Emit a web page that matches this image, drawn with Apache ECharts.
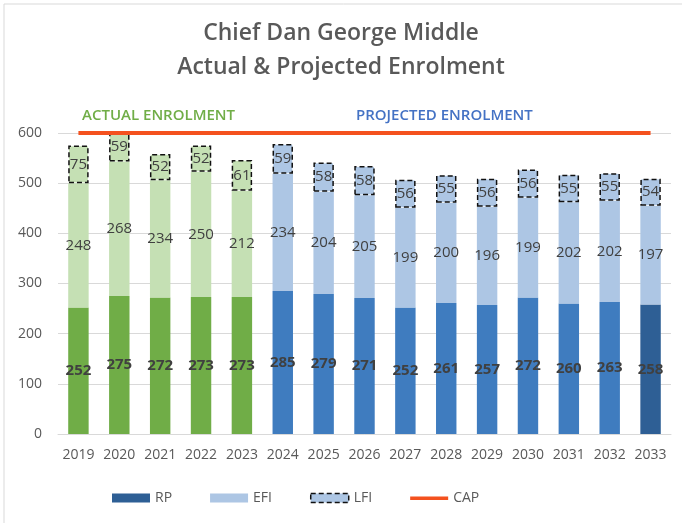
<!DOCTYPE html>
<html>
<head>
<meta charset="utf-8">
<script src="https://cdn.jsdelivr.net/npm/echarts@6/dist/echarts.min.js"></script>
<style>
  html, body { margin: 0; padding: 0; background: #fff; }
  #chart { width: 682px; height: 523px; }
</style>
</head>
<body>
<div id="chart"></div>
<script>
// data
var years = ["2019", "2020", "2021", "2022", "2023", "2024", "2025", "2026", "2027", "2028", "2029", "2030", "2031", "2032", "2033"];
var rp = [252, 275, 272, 273, 273, 285, 279, 271, 252, 261, 257, 272, 260, 263, 258];
var efi = [248, 268, 234, 250, 212, 234, 204, 205, 199, 200, 196, 199, 202, 202, 197];
var lfi = [75, 59, 52, 52, 61, 59, 58, 58, 56, 55, 56, 56, 55, 55, 54];
var cap = [600, 600, 600, 600, 600, 600, 600, 600, 600, 600, 600, 600, 600, 600, 600];
var actualCount = 5; // first 5 years are actual

var chart = echarts.init(document.getElementById("chart"));

function rpColor(i) {
  if (i < actualCount) return "#70ad47";
  if (i === years.length - 1) return "#2e5f95";
  return "#3f7cbf";
}
function lightColor(i) {
  return i < actualCount ? "#c5e0b4" : "#adc6e4";
}

var font = "'Open Sans', sans-serif";
var dash = [5, 3];

var option = {
  animation: false,
  textStyle: { fontFamily: font },
  title: {
    text: "Chief Dan George Middle\nActual & Projected Enrolment",
    left: "center",
    top: 11,
    textStyle: {
      fontFamily: font,
      fontSize: 23,
      fontWeight: 600,
      color: "#595959",
      lineHeight: 34
    }
  },
  graphic: [
    {
      type: "rect",
      shape: { x: 4, y: 4, width: 690, height: 530 },
      style: { fill: "none", stroke: "#d9d9d9", lineWidth: 1 },
      silent: true
    },
    {
      type: "text",
      left: 82,
      top: 108,
      style: { text: "ACTUAL ENROLMENT", fill: "#70ad47", font: "600 15px " + font }
    },
    {
      type: "text",
      left: 356,
      top: 108,
      style: { text: "PROJECTED ENROLMENT", fill: "#4472c4", font: "600 15px " + font }
    }
  ],
  legend: {
    left: 107,
    top: 486,
    itemWidth: 38,
    itemHeight: 9,
    itemGap: 38,
    textStyle: { color: "#595959", fontSize: 14, fontFamily: font },
    data: [
      { name: "RP", icon: "rect" },
      { name: "EFI", icon: "rect" },
      { name: "LFI", icon: "rect", itemStyle: { borderColor: "#111", borderWidth: 1.5, borderType: dash } },
      { name: "CAP", icon: "path://M0,0M0,9M0,3H38V6.5H0Z" }
    ]
  },
  grid: { left: 58, right: 11, top: 133, bottom: 89 },
  xAxis: {
    type: "category",
    data: years,
    axisTick: { show: false },
    axisLine: { lineStyle: { color: "#d9d9d9" } },
    axisLabel: { color: "#595959", fontSize: 14, margin: 14, interval: 0 }
  },
  yAxis: {
    type: "value",
    min: 0,
    max: 600,
    interval: 100,
    axisLabel: { color: "#595959", fontSize: 14, margin: 16 },
    splitLine: { lineStyle: { color: "#d9d9d9" } }
  },
  series: [
    {
      name: "RP",
      type: "bar",
      stack: "total",
      barWidth: "50%",
      itemStyle: { color: "#2e5f95" },
      label: { show: true, position: "inside", color: "#404040", fontSize: 15, fontWeight: "bold" },
      data: rp.map(function (v, i) { return { value: v, itemStyle: { color: rpColor(i) } }; })
    },
    {
      name: "EFI",
      type: "bar",
      stack: "total",
      itemStyle: { color: "#adc6e4" },
      label: { show: true, position: "inside", color: "#404040", fontSize: 15 },
      data: efi.map(function (v, i) { return { value: v, itemStyle: { color: lightColor(i) } }; })
    },
    {
      name: "LFI",
      type: "bar",
      stack: "total",
      itemStyle: { color: "#adc6e4", borderColor: "#111", borderWidth: 1.5, borderType: dash },
      label: { show: true, position: "inside", color: "#404040", fontSize: 15 },
      data: lfi.map(function (v, i) { return { value: v, itemStyle: { color: lightColor(i) } }; })
    },
    {
      name: "CAP",
      type: "line",
      data: cap,
      symbol: "none",
      z: 5,
      lineStyle: { color: "#f4511e", width: 4 },
      itemStyle: { color: "#f4511e" }
    }
  ]
};

chart.setOption(option);
</script>
</body>
</html>
